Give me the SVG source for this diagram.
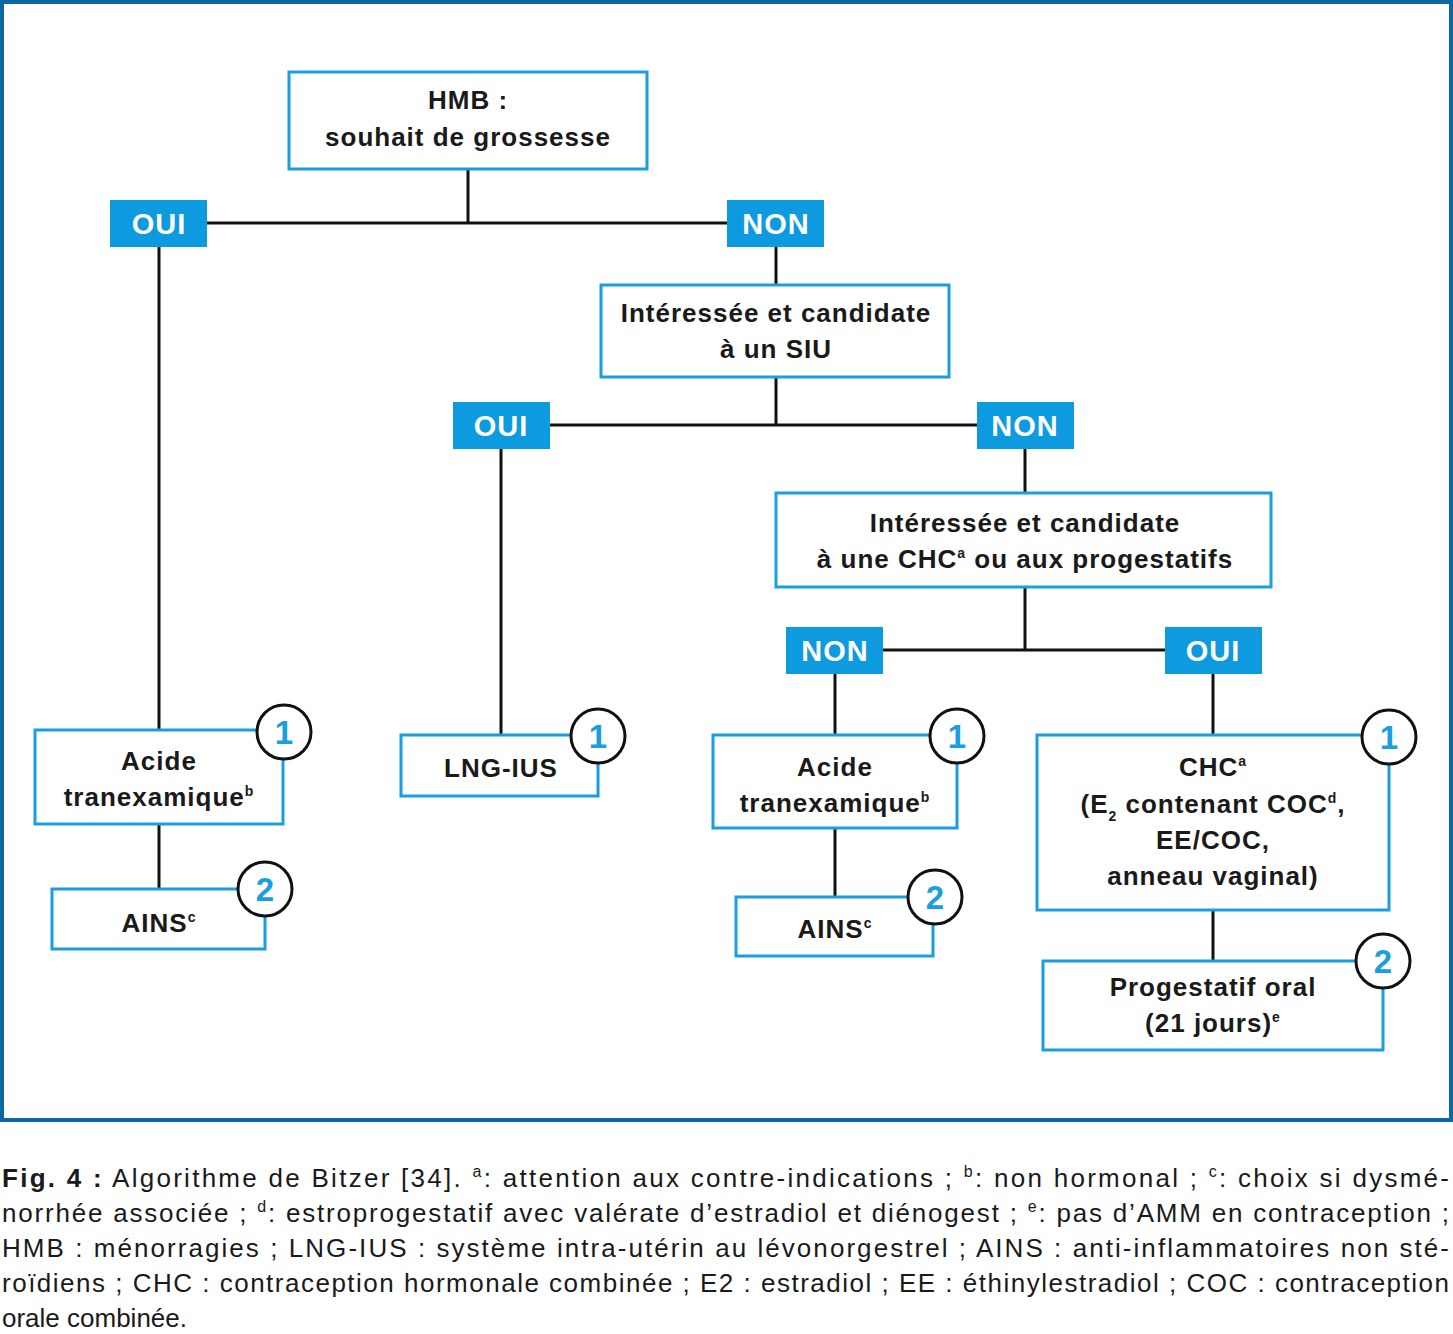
<svg xmlns="http://www.w3.org/2000/svg" width="1453" height="1334" viewBox="0 0 1453 1334">
<style>
.box{fill:#fff;stroke:#1b9ee0;stroke-width:3}
.lab{fill:#0e9ade}
.lt{font-family:"Liberation Sans",Arial,sans-serif;font-weight:bold;font-size:29px;fill:#fff;text-anchor:middle;letter-spacing:1px}
.t{font-family:"Liberation Sans",Arial,sans-serif;font-weight:bold;font-size:26px;fill:#1a1a1a;text-anchor:middle;letter-spacing:1px}
.sup{font-size:14px}
.c{fill:#fff;stroke:#111;stroke-width:3}
.cn{font-family:"Liberation Sans",Arial,sans-serif;font-weight:bold;font-size:33px;fill:#1b9ee0;text-anchor:middle}
.cap{font-family:"Liberation Sans",Arial,sans-serif;font-size:26px;fill:#1a1a1a}
.con{stroke:#111;stroke-width:3;fill:none}
</style>
<rect x="2" y="2" width="1449" height="1118" fill="#fff" stroke="#0b68a3" stroke-width="4"/>
<g id="connectors" class="con">
<path d="M468 169V223M207 223H727"/>
<path d="M159 247V730"/>
<path d="M776 247V285"/>
<path d="M776 377V425M550 425H977"/>
<path d="M501 449V735"/>
<path d="M1025 449V493"/>
<path d="M1025 587V650M883 650H1165"/>
<path d="M835 674V735"/>
<path d="M1213 674V735"/>
<path d="M159 824V889"/>
<path d="M835 828V897"/>
<path d="M1213 910V961"/>
</g>
<g id="n-hmb"><rect class="box" x="289" y="72" width="358" height="97"/><text class="t" x="468" y="109">HMB :</text><text class="t" x="468" y="146">souhait de grossesse</text></g>
<g id="l-oui1"><rect class="lab" x="110" y="200" width="97" height="47"/><text class="lt" x="159" y="234">OUI</text></g>
<g id="l-non1"><rect class="lab" x="727" y="200" width="97" height="47"/><text class="lt" x="776" y="234">NON</text></g>
<g id="n-siu"><rect class="box" x="601" y="285" width="348" height="92"/><text class="t" x="776" y="322">Intéressée et candidate</text><text class="t" x="776" y="358">à un SIU</text></g>
<g id="l-oui2"><rect class="lab" x="453" y="402" width="97" height="47"/><text class="lt" x="501" y="436">OUI</text></g>
<g id="l-non2"><rect class="lab" x="977" y="402" width="97" height="47"/><text class="lt" x="1025" y="436">NON</text></g>
<g id="n-chc-q"><rect class="box" x="776" y="493" width="495" height="94"/><text class="t" x="1025" y="532">Intéressée et candidate</text><text class="t" x="1025" y="568">à une CHC<tspan class="sup" dy="-10">a</tspan><tspan dy="10"> ou aux progestatifs</tspan></text></g>
<g id="l-non3"><rect class="lab" x="786" y="627" width="97" height="47"/><text class="lt" x="835" y="661">NON</text></g>
<g id="l-oui3"><rect class="lab" x="1165" y="627" width="97" height="47"/><text class="lt" x="1213" y="661">OUI</text></g>
<g id="n-acide1"><rect class="box" x="35" y="730" width="248" height="94"/><text class="t" x="159" y="770">Acide</text><text class="t" x="159" y="806">tranexamique<tspan class="sup" dy="-10">b</tspan></text><circle class="c" cx="284" cy="732" r="27"/><text class="cn" x="284" y="744">1</text></g>
<g id="n-ains1"><rect class="box" x="52" y="889" width="213" height="60"/><text class="t" x="159" y="932">AINS<tspan class="sup" dy="-10">c</tspan></text><circle class="c" cx="265" cy="889" r="27"/><text class="cn" x="265" y="901">2</text></g>
<g id="n-lng"><rect class="box" x="401" y="735" width="197" height="61"/><text class="t" x="501" y="777">LNG-IUS</text><circle class="c" cx="598" cy="736" r="27"/><text class="cn" x="598" y="748">1</text></g>
<g id="n-acide2"><rect class="box" x="713" y="735" width="244" height="93"/><text class="t" x="835" y="776">Acide</text><text class="t" x="835" y="812">tranexamique<tspan class="sup" dy="-10">b</tspan></text><circle class="c" cx="957" cy="736" r="27"/><text class="cn" x="957" y="748">1</text></g>
<g id="n-ains2"><rect class="box" x="736" y="897" width="197" height="59"/><text class="t" x="835" y="938">AINS<tspan class="sup" dy="-10">c</tspan></text><circle class="c" cx="935" cy="897" r="27"/><text class="cn" x="935" y="909">2</text></g>
<g id="n-chc"><rect class="box" x="1037" y="735" width="352" height="175"/><text class="t" x="1213" y="776">CHC<tspan class="sup" dy="-10">a</tspan></text><text class="t" x="1213" y="813">(E<tspan class="sup" dy="8">2</tspan><tspan dy="-8"> contenant COC</tspan><tspan class="sup" dy="-10">d</tspan><tspan dy="10">,</tspan></text><text class="t" x="1213" y="849">EE/COC,</text><text class="t" x="1213" y="885">anneau vaginal)</text><circle class="c" cx="1389" cy="737" r="27"/><text class="cn" x="1389" y="749">1</text></g>
<g id="n-prog"><rect class="box" x="1043" y="961" width="340" height="89"/><text class="t" x="1213" y="996">Progestatif oral</text><text class="t" x="1213" y="1032">(21 jours)<tspan class="sup" dy="-10">e</tspan></text><circle class="c" cx="1383" cy="961" r="27"/><text class="cn" x="1383" y="973">2</text></g>
<g id="caption" class="cap">
<text x="2" y="1187" textLength="1447" lengthAdjust="spacing"><tspan font-weight="bold">Fig. 4 :</tspan> Algorithme de Bitzer [34]. <tspan font-size="16" dy="-10">a</tspan><tspan dy="10">: attention aux contre-indications ; </tspan><tspan font-size="16" dy="-10">b</tspan><tspan dy="10">: non hormonal ; </tspan><tspan font-size="16" dy="-10">c</tspan><tspan dy="10">: choix si dysmé-</tspan></text>
<text x="2" y="1222" textLength="1447" lengthAdjust="spacing">norrhée associée ; <tspan font-size="16" dy="-10">d</tspan><tspan dy="10">: estroprogestatif avec valérate d’estradiol et diénogest ; </tspan><tspan font-size="16" dy="-10">e</tspan><tspan dy="10">: pas d’AMM en contraception ;</tspan></text>
<text x="2" y="1257" textLength="1447" lengthAdjust="spacing">HMB : ménorragies ; LNG-IUS : système intra-utérin au lévonorgestrel ; AINS : anti-inflammatoires non sté-</text>
<text x="2" y="1292" textLength="1447" lengthAdjust="spacing">roïdiens ; CHC : contraception hormonale combinée ; E2 : estradiol ; EE : éthinylestradiol ; COC : contraception</text>
<text x="2" y="1327">orale combinée.</text>
</g>
</svg>
